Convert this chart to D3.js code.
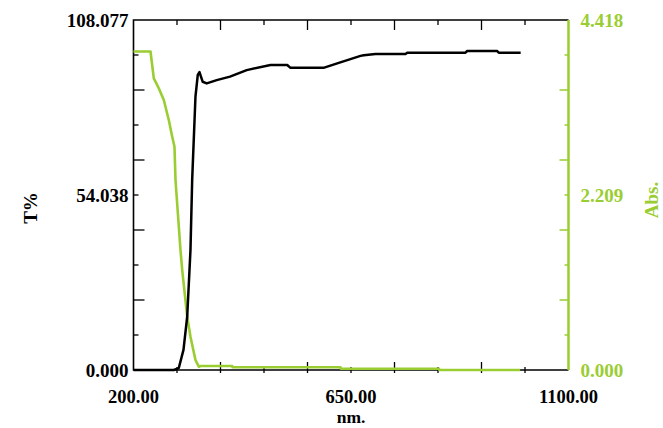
<!DOCTYPE html>
<html>
<head>
<meta charset="utf-8">
<script src="https://cdn.jsdelivr.net/npm/d3@7"></script>
<style>
  body { margin: 0; background: #fff; }
  svg text { font-family: "Liberation Serif", "Times New Roman", serif; font-weight: bold; }
</style>
</head>
<body>
<div id="chart"></div>
<script>
// wavelength (nm) and transmittance (%)
var tWave = [200, 283.4, 293.7, 303.4, 311.1, 317.9, 321.4, 328.2, 333.0, 336.5, 343.2, 351.5, 372.2, 399.7, 434.2, 483.4, 518, 524.8, 593.1, 621.5, 669.7, 676.5, 700.7, 762.8, 766.3, 886.9, 890.4, 952.5, 955.7, 1001];
var tValue = [0, 0, 0.6, 6.2, 16.5, 37.1, 58.7, 84.4, 91.1, 92.0, 89.0, 88.5, 89.5, 90.6, 92.6, 94.2, 94.2, 93.3, 93.3, 94.7, 97.0, 97.2, 97.6, 97.6, 98.0, 98.0, 98.5, 98.5, 98.0, 98.0];

// wavelength (nm) and absorbance
var aWave = [200, 235.2, 242.0, 252.3, 262.7, 273.0, 280.1, 284.8, 286.9, 297.2, 300.8, 311.1, 317.9, 328.2, 335.1, 338.6, 404.2, 404.8, 628.3, 628.9, 832.1, 832.7, 1000];
var aValue = [4.020, 4.020, 3.682, 3.556, 3.408, 3.156, 2.945, 2.819, 2.398, 1.515, 1.262, 0.673, 0.420, 0.126, 0.042, 0.050, 0.050, 0.034, 0.034, 0.016, 0.016, 0.0, 0.0];

var xTickLabels = [200, 650, 1100];
var tTickLabels = [0, 54.038, 108.077];
var aTickLabels = [0, 2.209, 4.418];

var width = 663, height = 428;
var margin = { left: 133.5, right: 94.5, top: 20, bottom: 58 };
var green = "#9acd32";

var x = d3.scaleLinear().domain([200, 1100]).range([margin.left, width - margin.right]);
var yT = d3.scaleLinear().domain([0, 108.077]).range([height - margin.bottom, margin.top]);
var yA = d3.scaleLinear().domain([0, 4.418]).range([height - margin.bottom, margin.top]);

var svg = d3.select("#chart").append("svg").attr("width", width).attr("height", height);

var x0 = x.range()[0], x1 = x.range()[1], yTop = yT.range()[1], yBot = yT.range()[0];

// tick positions: every tenth of each range, long on even steps
var xTicks = d3.range(1, 10).map(function(i) { return 200 + i * 90; });
var tTicks = d3.range(1, 10).map(function(i) { return i * 10.8077; });
var aTicks = d3.range(1, 10).map(function(i) { return i * 0.4418; });

function isMajor(i) { return (i + 1) % 2 === 0; }

var g = svg.append("g");

// bottom ticks
g.selectAll(".xb").data(xTicks).enter().append("line")
  .attr("x1", function(d) { return x(d); }).attr("x2", function(d) { return x(d); })
  .attr("y1", function(d, i) { return yBot - (isMajor(i) ? 8 : 3); })
  .attr("y2", yBot + 3)
  .attr("stroke", "#000").attr("stroke-width", 1.3);
// top ticks
g.selectAll(".xt").data(xTicks).enter().append("line")
  .attr("x1", function(d) { return x(d); }).attr("x2", function(d) { return x(d); })
  .attr("y1", yTop)
  .attr("y2", function(d, i) { return yTop + (isMajor(i) ? 10 : 5); })
  .attr("stroke", "#000").attr("stroke-width", 1.3);
// left ticks
g.selectAll(".yl").data(tTicks).enter().append("line")
  .attr("y1", function(d) { return yT(d); }).attr("y2", function(d) { return yT(d); })
  .attr("x1", x0)
  .attr("x2", function(d, i) { return x0 + (isMajor(i) ? 11 : 5); })
  .attr("stroke", "#000").attr("stroke-width", 1.3);
// right ticks
g.selectAll(".yr").data(aTicks).enter().append("line")
  .attr("y1", function(d) { return yA(d); }).attr("y2", function(d) { return yA(d); })
  .attr("x1", x1)
  .attr("x2", function(d, i) { return x1 - (isMajor(i) ? 9 : 4); })
  .attr("stroke", green).attr("stroke-width", 1.5);

// frame
g.append("path")
  .attr("d", "M" + x1 + "," + yTop + "H" + x0 + "V" + yBot + "H" + x1)
  .attr("fill", "none").attr("stroke", "#000").attr("stroke-width", 1.6);
g.append("line").attr("x1", x1).attr("x2", x1).attr("y1", yTop).attr("y2", yBot)
  .attr("stroke", green).attr("stroke-width", 2.5);

// curves
var tLine = d3.line().x(function(d, i) { return x(tWave[i]); }).y(function(d) { return yT(d); });
var aLine = d3.line().x(function(d, i) { return x(aWave[i]); }).y(function(d) { return yA(d); });

svg.append("path").attr("d", aLine(aValue)).attr("fill", "none")
  .attr("stroke", green).attr("stroke-width", 2.6).attr("stroke-linejoin", "round");
svg.append("path").attr("d", tLine(tValue)).attr("fill", "none")
  .attr("stroke", "#000").attr("stroke-width", 2.5).attr("stroke-linejoin", "round");

// tick labels
var fs = 19;
svg.selectAll(".xl").data(xTickLabels).enter().append("text")
  .attr("x", function(d) { return x(d); }).attr("y", 403)
  .attr("text-anchor", "middle").attr("font-size", 18.5).attr("fill", "#000")
  .text(function(d) { return d3.format(".2f")(d); });

svg.selectAll(".tl").data(tTickLabels).enter().append("text")
  .attr("x", x0 - 5).attr("y", function(d) { return yT(d); })
  .attr("dy", "0.35em").attr("text-anchor", "end").attr("font-size", fs).attr("fill", "#000")
  .text(function(d) { return d3.format(".3f")(d); });

svg.selectAll(".al").data(aTickLabels).enter().append("text")
  .attr("x", x1 + 12).attr("y", function(d) { return yA(d); })
  .attr("dy", "0.35em").attr("text-anchor", "start").attr("font-size", fs).attr("fill", green)
  .text(function(d) { return d3.format(".3f")(d); });

// axis titles
svg.append("text").attr("x", x((200 + 1100) / 2)).attr("y", 423)
  .attr("text-anchor", "middle").attr("font-size", 17.5).attr("fill", "#000").text("nm.");
svg.append("text").attr("transform", "translate(37,208) rotate(-90)")
  .attr("text-anchor", "middle").attr("font-size", fs).attr("fill", "#000").text("T%");
svg.append("text").attr("transform", "translate(658,200) rotate(-90)")
  .attr("text-anchor", "middle").attr("font-size", fs).attr("fill", green).text("Abs.");
</script>
</body>
</html>
